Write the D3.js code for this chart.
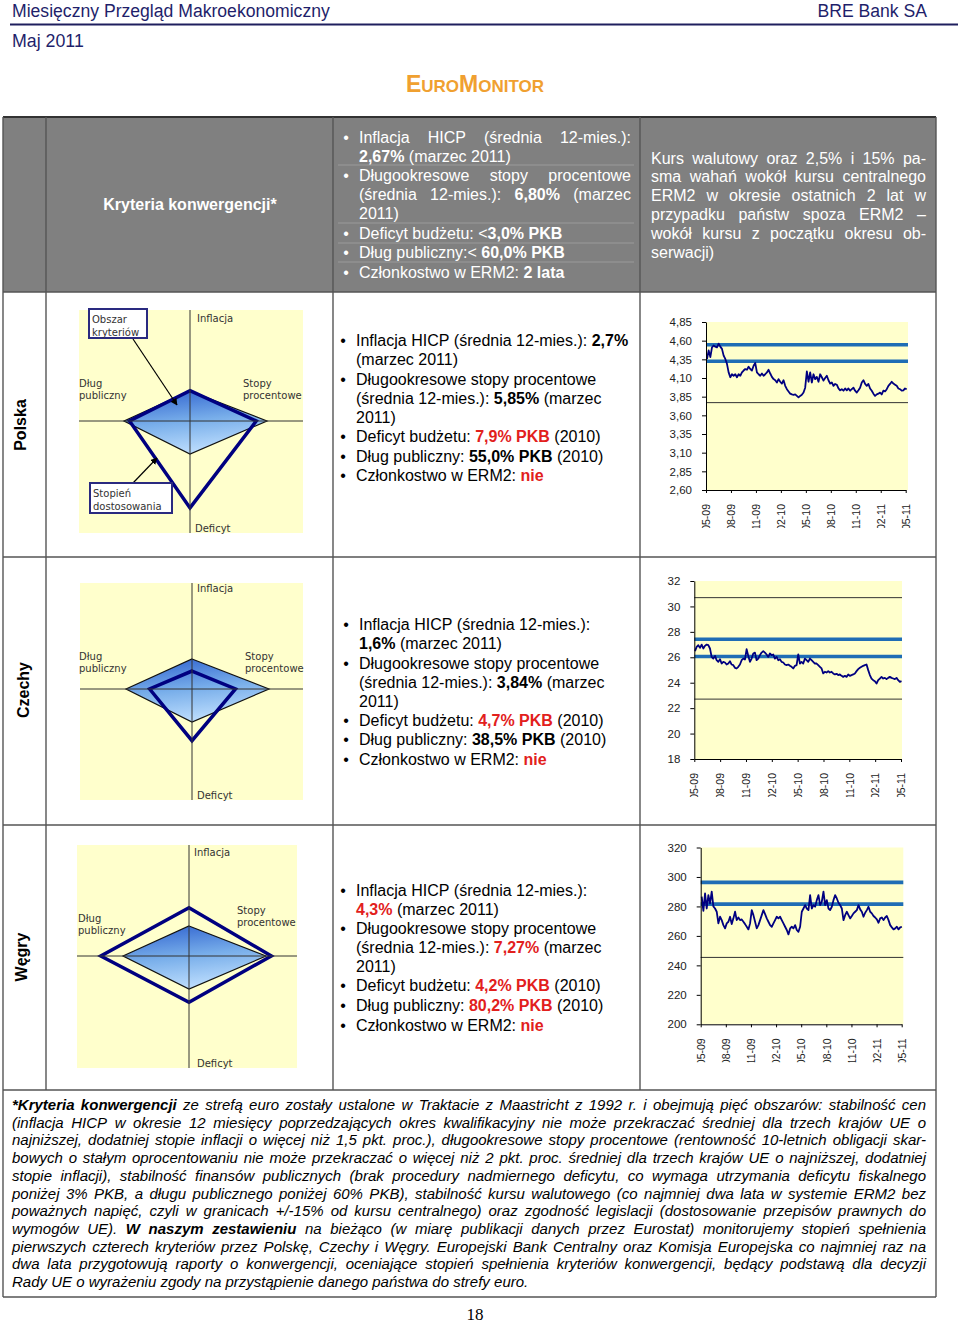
<!DOCTYPE html>
<html>
<head>
<meta charset="utf-8">
<script src="https://cdn.jsdelivr.net/npm/d3@7"></script>
<style>
body { margin: 0; background: #fff; }
svg { display: block; }
</style>
</head>
<body>
<script>
// ---- data ----
var radarAxes = ["Inflacja", "Stopy procentowe", "Deficyt", "Dług publiczny"];
var criteria = [2.67, 6.80, 3.0, 60.0];
var polskaValues = [2.7, 5.85, 7.9, 55.0];
var czechyValues = [1.6, 3.84, 4.7, 38.5];
var wegryValues = [4.3, 7.27, 4.2, 80.2];

// months since 05-2009
var monthTicks = [0, 3, 6, 9, 12, 15, 18, 21, 24];
var monthLabels = ["05-09", "08-09", "11-09", "02-10", "05-10", "08-10", "11-10", "02-11", "05-11"];

var plnTicks = [2.60, 2.85, 3.10, 3.35, 3.60, 3.85, 4.10, 4.35, 4.60, 4.85];
var plnBands = [4.546, 4.324];
var plnLimits = [3.77];
var plnSpan = [0.12, 24.12];
var plnRate = [4.355, 4.47, 4.38, 4.51, 4.535, 4.52, 4.51, 4.56, 4.52, 4.49,
  4.40, 4.355, 4.29, 4.175, 4.11, 4.15, 4.13, 4.15, 4.11, 4.15,
  4.13, 4.175, 4.20, 4.22, 4.21, 4.25, 4.22, 4.20, 4.265, 4.30,
  4.175, 4.15, 4.13, 4.16, 4.13, 4.15, 4.175, 4.21, 4.16, 4.115,
  4.085, 4.07, 4.04, 4.085, 4.05, 4.025, 4.07, 3.995, 3.95, 3.92,
  3.89, 3.88, 3.875, 3.88, 3.86, 3.84, 3.86, 3.875, 3.905, 3.97,
  4.19, 4.05, 4.175, 4.04, 4.15, 4.085, 4.115, 4.05, 4.15, 4.11,
  4.065, 4.10, 4.13, 4.07, 4.025, 4.04, 3.995, 4.02, 4.01, 3.96,
  3.935, 3.95, 3.93, 3.96, 3.935, 3.96, 3.93, 3.95, 3.97, 3.93,
  3.905, 3.935, 3.97, 4.04, 4.07, 4.02, 3.995, 4.02, 3.96, 3.93,
  3.89, 3.86, 3.88, 3.89, 3.905, 3.88, 3.93, 3.92, 3.95, 3.995,
  4.02, 4.05, 4.025, 4.01, 3.995, 3.96, 3.95, 3.93, 3.935, 3.96, 3.95];

var czkTicks = [18, 20, 22, 24, 26, 28, 30, 32];
var czkBands = [27.42, 26.06];
var czkLimits = [30.69, 22.71];
var czkSpan = [0.08, 24.06];
var czkRate = [26.48, 26.82, 26.95, 26.74, 27.0, 26.69, 26.9, 27.0, 26.95, 26.69,
  26.03, 25.90, 26.11, 25.77, 25.64, 25.85, 25.51, 25.64, 25.59, 25.43,
  25.51, 25.69, 25.43, 25.38, 25.17, 25.12, 25.25, 25.43, 25.77, 25.90,
  25.82, 26.64, 26.11, 25.64, 25.90, 26.30, 26.37, 25.77, 25.90, 26.17,
  26.37, 26.48, 26.37, 26.22, 26.03, 26.30, 26.17, 26.22, 25.90, 26.03,
  25.77, 25.85, 25.64, 25.59, 25.43, 25.38, 25.43, 25.33, 25.25, 25.12,
  25.33, 25.38, 26.22, 25.51, 25.64, 25.51, 25.90, 25.77, 25.64, 25.90,
  25.77, 25.64, 25.51, 25.51, 25.38, 25.25, 25.12, 24.73, 24.86, 24.80,
  24.91, 24.80, 24.86, 24.73, 24.65, 24.70, 24.60, 24.65, 24.54, 24.46,
  24.54, 24.46, 24.65, 24.54, 24.60, 24.65, 24.73, 24.91, 25.07, 25.17,
  25.25, 25.33, 25.38, 25.43, 24.99, 24.60, 24.33, 24.20, 24.12, 23.94,
  24.20, 24.33, 24.46, 24.33, 24.38, 24.28, 24.38, 24.46, 24.38, 24.33,
  24.28, 24.38, 24.20, 24.07, 24.12];

var hufTicks = [200, 220, 240, 260, 280, 300, 320];
var hufBands = [296.3, 281.6];
var hufLimits = [245.4];
var hufSpan = [0.12, 24.02];
var hufRate = [286.6, 277.0, 288.8, 278.6, 287.7, 282.0, 290.0, 280.0, 278.6, 276.4,
  268.5, 273.0, 270.7, 267.3, 265.1, 268.5, 269.6, 273.0, 268.0, 271.9,
  276.4, 270.7, 272.5, 270.7, 271.2, 269.6, 268.0, 266.2, 264.4, 268.5,
  277.5, 274.1, 269.6, 265.1, 267.3, 270.7, 274.1, 277.5, 274.8, 271.9,
  269.6, 267.3, 266.2, 268.5, 270.7, 273.0, 271.9, 273.0, 270.7, 268.5,
  266.2, 264.0, 261.0, 265.1, 266.2, 265.1, 267.3, 264.0, 262.8, 266.2,
  276.4, 278.6, 280.9, 278.6, 277.5, 287.7, 278.6, 280.9, 279.8, 284.3,
  287.7, 280.9, 283.2, 290.0, 280.9, 284.3, 278.6, 277.5, 279.8, 284.3,
  287.7, 285.4, 282.5, 280.9, 278.6, 270.7, 274.1, 276.4, 274.1, 271.9,
  273.5, 275.3, 276.4, 277.5, 280.9, 278.0, 276.4, 273.0, 275.7, 277.5,
  279.8, 276.4, 275.3, 273.5, 272.5, 271.2, 268.9, 271.9, 272.5, 270.7,
  272.5, 273.5, 270.7, 267.3, 265.8, 264.4, 265.1, 266.2, 264.4, 265.8, 266.2];

// ---- texts ----
var headerCrit = [
  {b: true, j: true, runs: [["Inflacja HICP (średnia 12-mies.):", ""]]},
  {runs: [["2,67%", "b"], [" (marzec 2011)", ""]]},
  {b: true, j: true, runs: [["Długookresowe stopy procentowe", ""]]},
  {j: true, runs: [["(średnia 12-mies.): ", ""], ["6,80%", "b"], [" (marzec", ""]]},
  {runs: [["2011)", ""]]},
  {b: true, runs: [["Deficyt budżetu: <", ""], ["3,0% PKB", "b"]]},
  {b: true, runs: [["Dług publiczny:< ", ""], ["60,0% PKB", "b"]]},
  {b: true, runs: [["Członkostwo w ERM2: ", ""], ["2 lata", "b"]]}
];
var headerKurs = [
  "Kurs walutowy oraz 2,5% i 15% pa-",
  "sma wahań wokół kursu centralnego",
  "ERM2 w okresie ostatnich 2 lat w",
  "przypadku państw spoza ERM2 –",
  "wokół kursu z początku okresu ob-",
  "serwacji)"
];
var polskaText = [
  {b: true, runs: [["Inflacja HICP (średnia 12-mies.): ", ""], ["2,7%", "b"]]},
  {runs: [["(marzec 2011)", ""]]},
  {b: true, runs: [["Długookresowe stopy procentowe", ""]]},
  {runs: [["(średnia 12-mies.): ", ""], ["5,85%", "b"], [" (marzec", ""]]},
  {runs: [["2011)", ""]]},
  {b: true, runs: [["Deficyt budżetu: ", ""], ["7,9% PKB", "r"], [" (2010)", ""]]},
  {b: true, runs: [["Dług publiczny: ", ""], ["55,0% PKB", "b"], [" (2010)", ""]]},
  {b: true, runs: [["Członkostwo w ERM2: ", ""], ["nie", "r"]]}
];
var czechyText = [
  {b: true, runs: [["Inflacja HICP (średnia 12-mies.):", ""]]},
  {runs: [["1,6%", "b"], [" (marzec 2011)", ""]]},
  {b: true, runs: [["Długookresowe stopy procentowe", ""]]},
  {runs: [["(średnia 12-mies.): ", ""], ["3,84%", "b"], [" (marzec", ""]]},
  {runs: [["2011)", ""]]},
  {b: true, runs: [["Deficyt budżetu: ", ""], ["4,7% PKB", "r"], [" (2010)", ""]]},
  {b: true, runs: [["Dług publiczny: ", ""], ["38,5% PKB", "b"], [" (2010)", ""]]},
  {b: true, runs: [["Członkostwo w ERM2: ", ""], ["nie", "r"]]}
];
var wegryText = [
  {b: true, runs: [["Inflacja HICP (średnia 12-mies.):", ""]]},
  {runs: [["4,3%", "r"], [" (marzec 2011)", ""]]},
  {b: true, runs: [["Długookresowe stopy procentowe", ""]]},
  {runs: [["(średnia 12-mies.): ", ""], ["7,27%", "r"], [" (marzec", ""]]},
  {runs: [["2011)", ""]]},
  {b: true, runs: [["Deficyt budżetu: ", ""], ["4,2% PKB", "r"], [" (2010)", ""]]},
  {b: true, runs: [["Dług publiczny: ", ""], ["80,2% PKB", "r"], [" (2010)", ""]]},
  {b: true, runs: [["Członkostwo w ERM2: ", ""], ["nie", "r"]]}
];
var footnote = [
  [["*Kryteria konwergencji", "b"], [" ze strefą euro zostały ustalone w Traktacie z Maastricht z 1992 r. i obejmują pięć obszarów: stabilność cen", ""]],
  [["(inflacja HICP w okresie 12 miesięcy poprzedzających okres kwalifikacyjny nie może przekraczać średniej dla trzech krajów UE o", ""]],
  [["najniższej, dodatniej stopie inflacji o więcej niż 1,5 pkt. proc.), długookresowe stopy procentowe (rentowność 10-letnich obligacji skar-", ""]],
  [["bowych o stałym oprocentowaniu nie może przekraczać o więcej niż 2 pkt. proc. średniej dla trzech krajów UE o najniższej, dodatniej", ""]],
  [["stopie inflacji), stabilność finansów publicznych (brak procedury nadmiernego deficytu, co wymaga utrzymania deficytu fiskalnego", ""]],
  [["poniżej 3% PKB, a długu publicznego poniżej 60% PKB), stabilność kursu walutowego (co najmniej dwa lata w systemie ERM2 bez", ""]],
  [["poważnych napięć, czyli w granicach +/-15% od kursu centralnego) oraz zgodność legislacji (dostosowanie przepisów prawnych do", ""]],
  [["wymogów UE). ", ""], ["W naszym zestawieniu", "b"], [" na bieżąco (w miarę publikacji danych przez Eurostat) monitorujemy stopień spełnienia", ""]],
  [["pierwszych czterech kryteriów przez Polskę, Czechy i Węgry. Europejski Bank Centralny oraz Komisja Europejska co najmniej raz na", ""]],
  [["dwa lata przygotowują raporty o konwergencji, oceniające stopień spełnienia kryteriów konwergencji, będący podstawą dla decyzji", ""]],
  [["Rady UE o wyrażeniu zgody na przystąpienie danego państwa do strefy euro.", ""]]
];

var RED = "#e2201c", YELLOW = "#ffffcc", NAVY = "#000080", BAND = "#1f6db5", GRID = "#555";
var FONT = "'Liberation Sans', Arial, sans-serif";
var SMALL = "'DejaVu Sans', Verdana, sans-serif";

var svg = d3.select("body").append("svg")
  .attr("width", 960).attr("height", 1324)
  .style("font-family", FONT);

var defs = svg.append("defs");
var grad = defs.append("linearGradient").attr("id", "critFill")
  .attr("x1", 0).attr("y1", 0).attr("x2", 0.25).attr("y2", 1);
grad.append("stop").attr("offset", "0%").attr("stop-color", "#2c5fce");
grad.append("stop").attr("offset", "55%").attr("stop-color", "#78aeea");
grad.append("stop").attr("offset", "100%").attr("stop-color", "#b8dafc");
defs.append("marker").attr("id", "arrow").attr("viewBox", "0 0 10 10")
  .attr("refX", 9).attr("refY", 5).attr("markerWidth", 7).attr("markerHeight", 7)
  .attr("orient", "auto").attr("markerUnits", "userSpaceOnUse")
  .append("path").attr("d", "M0,0L10,5L0,10z").attr("fill", "#000");

// ---- text helpers ----
function toWords(runs) {
  var words = [[]];
  runs.forEach(function(r) {
    r[0].split(" ").forEach(function(p, k) {
      if (k > 0) words.push([]);
      if (p !== "") words[words.length - 1].push([p, r[1]]);
    });
  });
  return words.filter(function(w) { return w.length; });
}

function drawLine(g, runs, x0, x1, y, o) {
  var words = toWords(runs);
  var nodes = words.map(function(w) {
    var t = g.append("text").attr("x", 0).attr("y", y)
      .attr("font-size", o.size).attr("fill", o.fill || "#000");
    if (o.italic) t.attr("font-style", "italic");
    w.forEach(function(p) {
      var ts = t.append("tspan").text(p[0]);
      if (p[1] === "b" || p[1] === "r") ts.attr("font-weight", "bold");
      if (p[1] === "r") ts.attr("fill", RED);
    });
    return t;
  });
  var widths = nodes.map(function(n) { return n.node().getComputedTextLength(); });
  var total = d3.sum(widths);
  var gap = o.size * 0.278, scale = 1, n = nodes.length;
  if (o.justify && n > 1) {
    gap = (x1 - x0 - total) / (n - 1);
  }
  var minGap = o.size * 0.2;
  if (n > 1 && gap < minGap) {
    gap = minGap;
    scale = (x1 - x0 - minGap * (n - 1)) / total;
  }
  var x = x0;
  nodes.forEach(function(t, i) {
    t.attr("transform", "translate(" + x + ",0)" + (scale < 1 ? " scale(" + scale + ",1)" : ""));
    x += widths[i] * scale + gap;
  });
}

function bulletBlock(g, lines, bx, tx, x1, ys, o) {
  lines.forEach(function(l, i) {
    var yy = ys[i] + 5.5;
    if (l.b) g.append("text").attr("x", bx).attr("y", yy).attr("text-anchor", "middle")
      .attr("font-size", o.size).attr("fill", o.fill || "#000").text("•");
    drawLine(g, l.runs, tx, x1, yy, {size: o.size, fill: o.fill, justify: l.j});
  });
}

// ---- page header ----
var head = svg.append("g").attr("fill", "#1f1f6b");
head.append("text").attr("x", 12).attr("y", 17).attr("font-size", 17.6).text("Miesięczny Przegląd Makroekonomiczny");
head.append("text").attr("x", 927).attr("y", 17).attr("font-size", 17.6).attr("text-anchor", "end").text("BRE Bank SA");
head.append("text").attr("x", 12).attr("y", 47).attr("font-size", 17.8).text("Maj 2011");
svg.append("line").attr("x1", 10).attr("x2", 958).attr("y1", 24.5).attr("y2", 24.5)
  .attr("stroke", "#1f1f5e").attr("stroke-width", 2);

var euro = svg.append("text").attr("x", 475).attr("y", 92).attr("text-anchor", "middle")
  .attr("font-weight", "bold").attr("fill", "#f0a030");
[["E", 23], ["URO", 17], ["M", 23], ["ONITOR", 17]].forEach(function(p) {
  euro.append("tspan").attr("font-size", p[1]).text(p[0]);
});

// ---- table ----
var colX = [3, 46, 333, 640, 936];
var rowY = [117, 292, 557, 825, 1090, 1297];
svg.append("rect").attr("x", colX[0]).attr("y", rowY[0])
  .attr("width", colX[4] - colX[0]).attr("height", rowY[1] - rowY[0]).attr("fill", "#808080");

// faint cell lines inside header criteria cell
[165, 223, 243, 262].forEach(function(yy) {
  svg.append("line").attr("x1", 338).attr("x2", 634).attr("y1", yy).attr("y2", yy)
    .attr("stroke", "#9a9a9a").attr("stroke-width", 1);
});

var grid = svg.append("g").attr("stroke", GRID).attr("stroke-width", 1.4);
rowY.forEach(function(yy, i) {
  grid.append("line").attr("x1", colX[0]).attr("x2", colX[4]).attr("y1", yy).attr("y2", yy)
    .attr("stroke", i === 0 ? "#333" : GRID).attr("stroke-width", i === 0 ? 2 : 1.4);
});
colX.forEach(function(xx, i) {
  var bottom = (i === 0 || i === 4) ? rowY[5] : rowY[4];
  grid.append("line").attr("x1", xx).attr("x2", xx).attr("y1", rowY[0]).attr("y2", bottom);
});

svg.append("text").attr("x", 190).attr("y", 209.5).attr("text-anchor", "middle")
  .attr("font-size", 16).attr("font-weight", "bold").attr("fill", "#fff").text("Kryteria konwergencji*");

var hg = svg.append("g");
bulletBlock(hg, headerCrit, 346, 359, 631, [137, 156, 175, 194, 213, 233, 252, 272], {size: 16, fill: "#fff"});
var kursY = [158, 176.5, 195.5, 214.5, 233, 252];
headerKurs.forEach(function(s, i) {
  drawLine(hg, [[s, ""]], 651, 926, kursY[i] + 5.5, {size: 16, fill: "#fff", justify: i < headerKurs.length - 1});
});

// country names
[["Polska", 26, 425], ["Czechy", 29, 690], ["Węgry", 27, 957]].forEach(function(c) {
  svg.append("text").attr("transform", "translate(" + c[1] + "," + c[2] + ") rotate(-90)")
    .attr("text-anchor", "middle").attr("font-size", 16).attr("font-weight", "bold").text(c[0]);
});

// country texts
var tg = svg.append("g");
bulletBlock(tg, polskaText, 343, 356, 632, [340, 359, 379, 398, 417, 436, 456, 475], {size: 16});
bulletBlock(tg, czechyText, 346, 359, 632, [624, 643, 663, 682, 701, 720, 739, 759], {size: 16});
bulletBlock(tg, wegryText, 343, 356, 632, [890, 909, 928, 947, 966, 985, 1005, 1025], {size: 16});

// ---- radar charts ----
var critRadius = [30, 77, 33, 66];
var radarLayout = [
  {cx: 190, cy: 421, bg: [79, 310, 303, 533],
   lab: {inf: [197, 322], dl: [79, 387], st: [243, 387], def: [195, 532]}},
  {cx: 192, cy: 689, bg: [80, 583, 303, 800],
   lab: {inf: [197, 592], dl: [79, 660], st: [245, 660], def: [197, 799]}},
  {cx: 189, cy: 956, bg: [77, 845, 297, 1068],
   lab: {inf: [194, 856], dl: [78, 922], st: [237, 914], def: [197, 1067]}}
];

function drawRadar(L, values) {
  var g = svg.append("g");
  g.append("rect").attr("x", L.bg[0]).attr("y", L.bg[1])
    .attr("width", L.bg[2] - L.bg[0]).attr("height", L.bg[3] - L.bg[1]).attr("fill", YELLOW);

  var scales = criteria.map(function(c, i) {
    return d3.scaleLinear().domain([0, c]).range([0, critRadius[i]]);
  });
  var radial = d3.lineRadial()
    .angle(function(d, i) { return i * Math.PI / 2; })
    .radius(function(d, i) { return scales[i](d); })
    .curve(d3.curveLinearClosed);
  var c = g.append("g").attr("transform", "translate(" + L.cx + "," + L.cy + ")");
  c.append("path").attr("d", radial(criteria))
    .attr("fill", "url(#critFill)").attr("stroke", "#111").attr("stroke-width", 1.2);

  g.append("line").attr("x1", L.cx).attr("x2", L.cx).attr("y1", L.bg[1]).attr("y2", L.bg[3])
    .attr("stroke", "#333").attr("stroke-width", 1);
  g.append("line").attr("x1", L.bg[0]).attr("x2", L.bg[2]).attr("y1", L.cy).attr("y2", L.cy)
    .attr("stroke", "#333").attr("stroke-width", 1);

  c.append("path").attr("d", radial(values))
    .attr("fill", "none").attr("stroke", NAVY).attr("stroke-width", 3.5)
    .attr("stroke-linejoin", "miter");

  var lg = g.append("g").attr("font-family", SMALL).attr("font-size", 10).attr("fill", "#333");
  lg.append("text").attr("x", L.lab.inf[0]).attr("y", L.lab.inf[1]).text(radarAxes[0]);
  lg.append("text").attr("x", L.lab.st[0]).attr("y", L.lab.st[1]).text("Stopy");
  lg.append("text").attr("x", L.lab.st[0]).attr("y", L.lab.st[1] + 12).text("procentowe");
  lg.append("text").attr("x", L.lab.def[0]).attr("y", L.lab.def[1]).text(radarAxes[2]);
  lg.append("text").attr("x", L.lab.dl[0]).attr("y", L.lab.dl[1]).text("Dług");
  lg.append("text").attr("x", L.lab.dl[0]).attr("y", L.lab.dl[1] + 12).text("publiczny");
  return g;
}

var pg = drawRadar(radarLayout[0], polskaValues);
drawRadar(radarLayout[1], czechyValues);
drawRadar(radarLayout[2], wegryValues);

// callouts in the Polish chart
var callouts = [
  {box: [89, 309, 58, 29], lines: ["Obszar", "kryteriów"], arrow: [133, 339, 177, 405]},
  {box: [90, 483, 82, 30], lines: ["Stopień", "dostosowania"], arrow: [133, 483, 157, 458]}
];
callouts.forEach(function(co) {
  pg.append("line").attr("x1", co.arrow[0]).attr("y1", co.arrow[1])
    .attr("x2", co.arrow[2]).attr("y2", co.arrow[3])
    .attr("stroke", "#000").attr("stroke-width", 1.2).attr("marker-end", "url(#arrow)");
  pg.append("rect").attr("x", co.box[0]).attr("y", co.box[1])
    .attr("width", co.box[2]).attr("height", co.box[3])
    .attr("fill", "#fff").attr("stroke", "#2a2a80").attr("stroke-width", 2);
  co.lines.forEach(function(s, i) {
    pg.append("text").attr("x", co.box[0] + 3).attr("y", co.box[1] + 14 + i * 12.5)
      .attr("font-family", SMALL).attr("font-size", 10).attr("fill", "#333").text(s);
  });
});

// ---- exchange rate charts ----
var rateCharts = [
  {values: plnRate, span: plnSpan, ticks: plnTicks, bands: plnBands, limits: plnLimits,
   fmt: function(d) { return d.toFixed(2).replace(".", ","); },
   x0: 706, x24: 905.7, right: 908, yTop: 322, yBot: 490},
  {values: czkRate, span: czkSpan, ticks: czkTicks, bands: czkBands, limits: czkLimits,
   fmt: d3.format("d"),
   x0: 694.3, x24: 901, right: 902, yTop: 581, yBot: 759},
  {values: hufRate, span: hufSpan, ticks: hufTicks, bands: hufBands, limits: hufLimits,
   fmt: d3.format("d"),
   x0: 700.7, x24: 901.7, right: 903.3, yTop: 847.5, yBot: 1024.3}
];

rateCharts.forEach(function(cfg, k) {
  var x = d3.scaleLinear().domain([0, 24]).range([cfg.x0, cfg.x24]);
  var y = d3.scaleLinear().domain(d3.extent(cfg.ticks)).range([cfg.yBot, cfg.yTop]);
  var g = svg.append("g");

  g.append("rect").attr("x", cfg.x0).attr("y", cfg.yTop)
    .attr("width", cfg.right - cfg.x0).attr("height", cfg.yBot - cfg.yTop).attr("fill", YELLOW);

  g.selectAll(".limit").data(cfg.limits).enter().append("line")
    .attr("x1", cfg.x0).attr("x2", cfg.right)
    .attr("y1", function(d) { return y(d); }).attr("y2", function(d) { return y(d); })
    .attr("stroke", "#333").attr("stroke-width", 1);

  g.selectAll(".band").data(cfg.bands).enter().append("line")
    .attr("x1", cfg.x0).attr("x2", cfg.right)
    .attr("y1", function(d) { return y(d); }).attr("y2", function(d) { return y(d); })
    .attr("stroke", BAND).attr("stroke-width", 3.6);

  var step = (cfg.span[1] - cfg.span[0]) / (cfg.values.length - 1);
  var line = d3.line()
    .x(function(d, i) { return x(cfg.span[0] + i * step); })
    .y(function(d) { return y(d); });
  g.append("path").datum(cfg.values).attr("d", line)
    .attr("fill", "none").attr("stroke", NAVY).attr("stroke-width", 1.8).attr("stroke-linejoin", "round");

  var ya = g.append("g").attr("transform", "translate(" + cfg.x0 + ",0)")
    .call(d3.axisLeft(y).tickValues(cfg.ticks).tickFormat(cfg.fmt).tickSize(4).tickSizeOuter(0).tickPadding(10));
  ya.attr("font-family", FONT).attr("font-size", 11.5);
  ya.selectAll("text").attr("fill", "#222");

  // the rotated month labels are cut at the bottom, as in the original
  var clipId = "xclip" + k;
  defs.append("clipPath").attr("id", clipId).append("rect")
    .attr("x", cfg.x0 - 20).attr("y", -2).attr("width", cfg.right - cfg.x0 + 40).attr("height", 40);
  var xa = g.append("g").attr("transform", "translate(0," + cfg.yBot + ")")
    .attr("clip-path", "url(#" + clipId + ")")
    .call(d3.axisBottom(x).tickValues(monthTicks)
      .tickFormat(function(d, i) { return monthLabels[i]; }).tickSize(3).tickSizeOuter(0));
  xa.attr("font-family", FONT).attr("font-size", 10.5);
  xa.selectAll("text").attr("fill", "#222")
    .attr("transform", "rotate(-90)").attr("text-anchor", "end")
    .attr("x", -14).attr("y", 0).attr("dy", "0.35em");
});

// ---- footnote ----
var fg = svg.append("g");
footnote.forEach(function(runs, i) {
  drawLine(fg, runs, 12, 926, 1110 + i * 17.7, {size: 15, italic: true, justify: i < footnote.length - 1});
});

svg.append("text").attr("x", 475).attr("y", 1320).attr("text-anchor", "middle")
  .attr("font-family", "'Liberation Serif', 'Times New Roman', serif").attr("font-size", 17).text("18");
</script>
</body>
</html>
